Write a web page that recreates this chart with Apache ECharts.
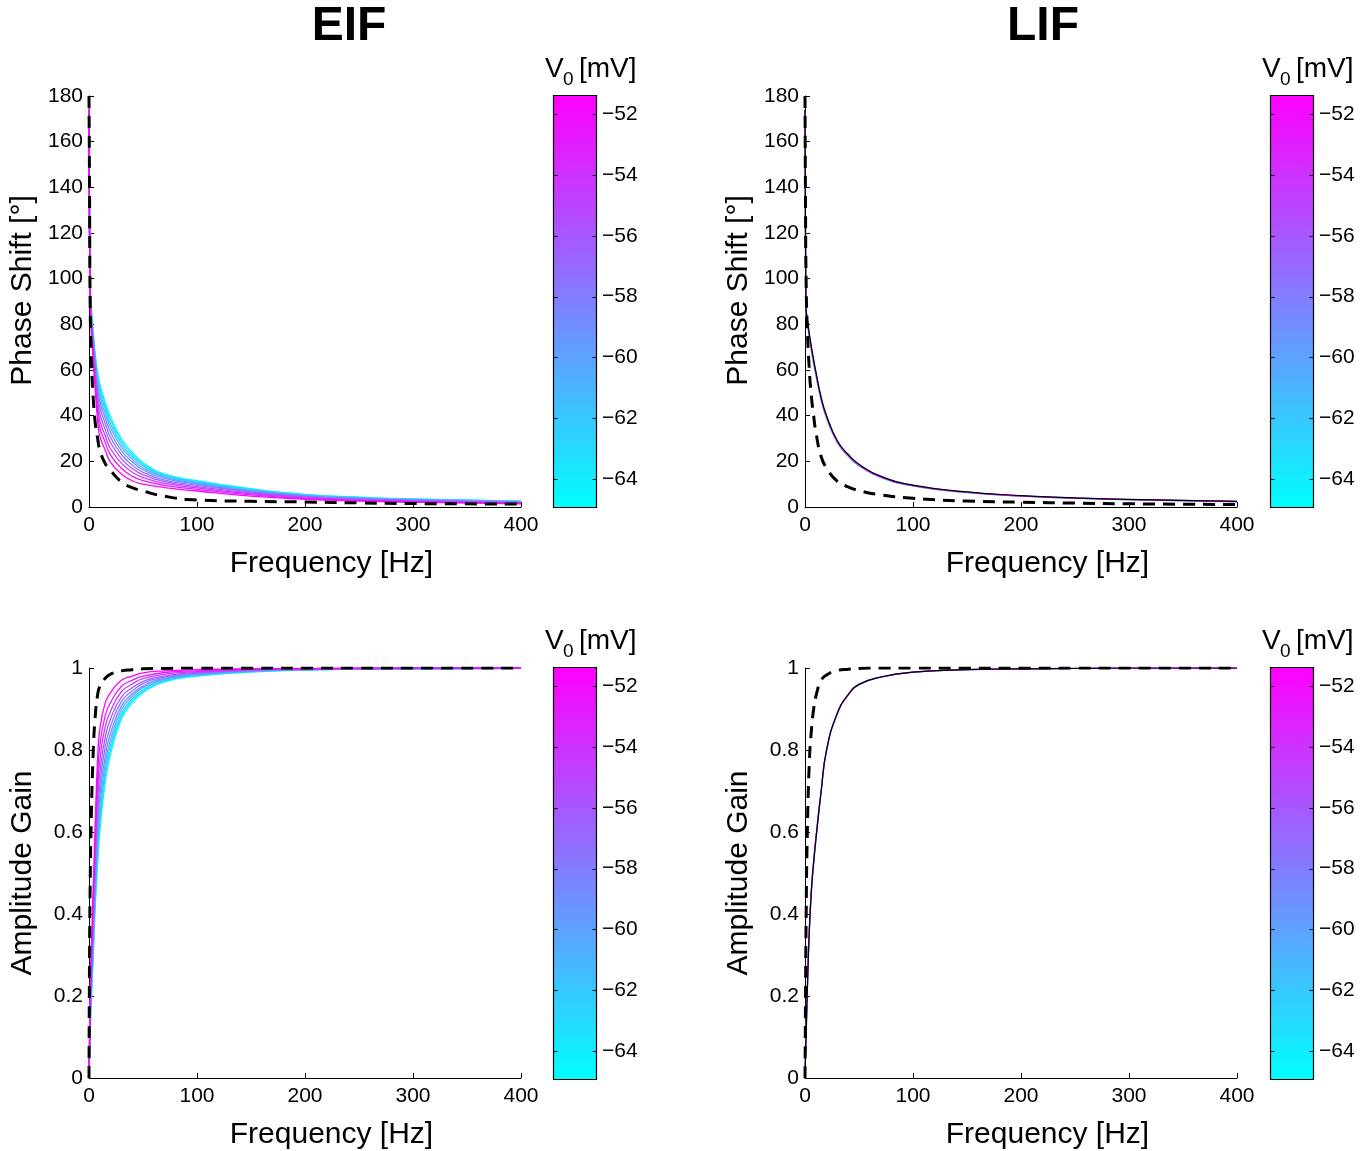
<!DOCTYPE html>
<html><head><meta charset="utf-8">
<script src="https://cdn.jsdelivr.net/npm/echarts@6/dist/echarts.min.js"></script>
<style>html,body{margin:0;padding:0;background:#fff}#c{width:1365px;height:1151px}</style>
</head><body><div id="c"></div>
<script>
// ---------------- data ----------------
const freq = [0, 0.5, 1, 2, 4, 6, 8, 10, 15, 20, 30, 40, 50, 70, 100, 150, 200, 250, 300, 400];
const cbTicks = [-64, -62, -60, -58, -56, -54, -52];
const cbMin = -64.92, cbMax = -51.37;

const v0EIF = [-65, -63.5, -62, -60.5, -59, -57.5, -56, -54.5, -53, -51.5];
const eifPhase = [
  [172, 125, 100, 88, 76, 66, 59, 54, 46, 39.5, 30, 24, 19.5, 14.5, 11.5, 8, 5.5, 4.3, 3.5, 2.6],
  [172.2, 124.7, 99.4, 87.3, 75.2, 64.9, 57.5, 52.4, 44.5, 38.1, 28.9, 23.1, 18.8, 14.1, 11.2, 7.8, 5.4, 4.2, 3.4, 2.5],
  [172.5, 124.3, 98.8, 86.5, 74.2, 63.6, 55.9, 50.6, 42.9, 36.5, 27.7, 22.1, 18.1, 13.6, 10.8, 7.5, 5.2, 4.0, 3.3, 2.4],
  [172.7, 123.8, 98.1, 85.6, 73.1, 62.2, 54.0, 48.5, 41.0, 34.7, 26.3, 21.0, 17.2, 13.1, 10.4, 7.2, 5.0, 3.9, 3.2, 2.3],
  [173.0, 123.3, 97.3, 84.6, 71.9, 60.6, 51.9, 46.2, 38.9, 32.7, 24.7, 19.8, 16.3, 12.5, 10.0, 6.9, 4.8, 3.7, 3.0, 2.2],
  [173.4, 122.8, 96.4, 83.5, 70.6, 58.8, 49.6, 43.7, 36.6, 30.5, 23.0, 18.4, 15.2, 11.8, 9.5, 6.6, 4.6, 3.5, 2.9, 2.1],
  [173.7, 122.2, 95.4, 82.3, 69.2, 56.9, 47.0, 40.9, 34.0, 28.1, 21.2, 16.9, 14.1, 11.1, 8.9, 6.2, 4.3, 3.3, 2.7, 1.9],
  [174.1, 121.5, 94.4, 81.0, 67.6, 54.8, 44.3, 37.9, 31.3, 25.5, 19.2, 15.3, 12.9, 10.3, 8.4, 5.8, 4.0, 3.1, 2.5, 1.8],
  [174.5, 120.8, 93.3, 79.6, 65.9, 52.6, 41.4, 34.7, 28.4, 22.7, 17.0, 13.5, 11.5, 9.5, 7.7, 5.3, 3.7, 2.9, 2.3, 1.6],
  [175, 120, 92, 78, 64, 50, 38, 31, 25, 19.5, 14.5, 11.5, 10, 8.5, 7, 4.8, 3.4, 2.6, 2.1, 1.4]
];
const eifPhaseRef = [180, 140, 92, 68, 47, 36, 30, 25, 19, 16, 11, 8.5, 7, 4.7, 3.1, 2.5, 2.2, 1.8, 1.5, 1.3];

const eifGain = [
  [0, 0.05, 0.1, 0.18, 0.3, 0.43, 0.52, 0.6, 0.72, 0.79, 0.875, 0.915, 0.94, 0.966, 0.98, 0.99, 0.995, 0.997, 0.998, 0.999],
  [0, 0.054, 0.107, 0.188, 0.312, 0.445, 0.538, 0.618, 0.734, 0.801, 0.882, 0.920, 0.943, 0.968, 0.981, 0.991, 0.995, 0.997, 0.998, 0.999],
  [0, 0.058, 0.115, 0.198, 0.326, 0.462, 0.559, 0.638, 0.749, 0.813, 0.889, 0.925, 0.947, 0.970, 0.982, 0.991, 0.996, 0.997, 0.998, 0.999],
  [0, 0.062, 0.124, 0.209, 0.341, 0.480, 0.582, 0.660, 0.767, 0.826, 0.898, 0.931, 0.952, 0.972, 0.984, 0.992, 0.996, 0.998, 0.998, 0.999],
  [0, 0.067, 0.134, 0.221, 0.358, 0.501, 0.608, 0.685, 0.786, 0.841, 0.907, 0.937, 0.956, 0.975, 0.985, 0.993, 0.996, 0.998, 0.999, 0.999],
  [0, 0.073, 0.145, 0.234, 0.377, 0.525, 0.637, 0.713, 0.808, 0.858, 0.918, 0.944, 0.962, 0.978, 0.987, 0.994, 0.997, 0.998, 0.999, 0.999],
  [0, 0.079, 0.157, 0.248, 0.397, 0.550, 0.668, 0.743, 0.831, 0.876, 0.929, 0.952, 0.967, 0.981, 0.989, 0.995, 0.997, 0.999, 0.999, 1],
  [0, 0.085, 0.170, 0.264, 0.419, 0.577, 0.702, 0.775, 0.857, 0.895, 0.942, 0.961, 0.974, 0.985, 0.991, 0.996, 0.998, 0.999, 1, 1],
  [0, 0.092, 0.184, 0.281, 0.443, 0.606, 0.738, 0.810, 0.884, 0.916, 0.955, 0.970, 0.980, 0.989, 0.993, 0.997, 0.998, 0.999, 1, 1],
  [0, 0.1, 0.2, 0.3, 0.47, 0.64, 0.78, 0.85, 0.915, 0.94, 0.97, 0.98, 0.988, 0.993, 0.996, 0.998, 0.999, 1, 1, 1]
];
const eifGainRef = [0, 0.3, 0.45, 0.62, 0.8, 0.89, 0.935, 0.955, 0.975, 0.985, 0.993, 0.996, 0.998, 0.999, 1, 1, 1, 1, 1, 1];

const v0LIF = [-65, -58, -51.5];
const lifPhase = [
  [173, 112, 85, 81, 74, 68, 62.6, 57.8, 46.6, 38.8, 28.1, 22.2, 18, 13, 9.2, 6.3, 4.8, 3.8, 3.1, 2.3],
  [173.5, 113, 86, 81.8, 74.8, 68.7, 63.2, 58.3, 47, 39.1, 28.3, 22.4, 18.2, 13.1, 9.3, 6.4, 4.8, 3.9, 3.2, 2.4],
  [174, 114, 86.5, 82.4, 75.3, 69.3, 63.8, 58.8, 47.4, 39.5, 28.6, 22.6, 18.4, 13.2, 9.4, 6.5, 4.9, 3.9, 3.2, 2.4]
];
const lifPhaseFit = [174, 115, 87, 83, 76, 70, 64.5, 59.5, 48, 40, 29, 23, 18.7, 13.5, 9.6, 6.6, 5, 4, 3.3, 2.5];
const lifPhaseRef = [180, 130, 100, 80, 60, 48, 40, 33, 22, 17, 11.2, 8.8, 7.2, 5.3, 3.8, 2.6, 2.1, 1.7, 1.4, 1.1];

const lifGain = [
  [0, 0.055, 0.095, 0.195, 0.355, 0.455, 0.52, 0.575, 0.697, 0.798, 0.888, 0.934, 0.959, 0.977, 0.99, 0.996, 0.998, 0.999, 1, 1],
  [0, 0.06, 0.1, 0.2, 0.36, 0.46, 0.525, 0.58, 0.7, 0.8, 0.89, 0.935, 0.96, 0.978, 0.99, 0.996, 0.998, 0.999, 1, 1],
  [0, 0.065, 0.105, 0.205, 0.365, 0.465, 0.53, 0.585, 0.702, 0.801, 0.891, 0.935, 0.96, 0.978, 0.99, 0.996, 0.998, 0.999, 1, 1]
];
const lifGainFit = [0, 0.06, 0.1, 0.2, 0.36, 0.46, 0.525, 0.58, 0.7, 0.8, 0.89, 0.935, 0.96, 0.978, 0.99, 0.996, 0.998, 0.999, 1, 1];
const lifGainRef = [0, 0.2, 0.38, 0.58, 0.77, 0.85, 0.9, 0.93, 0.97, 0.983, 0.994, 0.997, 0.999, 1, 1, 1, 1, 1, 1, 1];

// ---------------- chart ----------------
const FONT = '"Liberation Sans", Arial, Helvetica, sans-serif';
function coolColor(v) {
  const t = Math.max(0, Math.min(1, (v - cbMin) / (cbMax - cbMin)));
  return 'rgb(' + Math.round(255 * t) + ',' + Math.round(255 * (1 - t)) + ',255)';
}
function pairs(ys) { return freq.map((f, i) => [f, ys[i]]); }
function line(g, ys, color, width, z) {
  return { type: 'line', xAxisIndex: g, yAxisIndex: g, data: pairs(ys), symbol: 'none', showSymbol: false,
    smooth: 0.5, silent: true, animation: false, z: z || 2, clip: true,
    lineStyle: { color: color, width: width || 1.3 }, itemStyle: { color: color } };
}
function dashed(g, ys) {
  return { type: 'line', xAxisIndex: g, yAxisIndex: g, data: pairs(ys), symbol: 'none', showSymbol: false,
    smooth: 0.5, silent: true, animation: false, z: 5, clip: true,
    lineStyle: { color: '#000', width: 3, type: [12, 8] }, itemStyle: { color: '#000' } };
}

const mainBoxes = [
  { left: 89, top: 96 }, { left: 805, top: 96 }, { left: 89, top: 668 }, { left: 805, top: 668 }
];
const cbBoxes = [
  { left: 553, top: 95 }, { left: 1270, top: 95 }, { left: 553, top: 667 }, { left: 1270, top: 667 }
];
const CBW = 43, CBH = 412;

const grid = [];
mainBoxes.forEach(b => grid.push({ left: b.left, top: b.top, width: 432, height: 411, containLabel: false }));
cbBoxes.forEach(b => grid.push({ left: b.left, top: b.top, width: CBW, height: CBH, show: false, containLabel: false }));

const axisCommon = {
  axisLine: { show: true, onZero: false, lineStyle: { color: '#000', width: 1 } },
  axisTick: { show: true, inside: true, length: 5, lineStyle: { color: '#000' } },
  axisLabel: { color: '#000', fontSize: 21, fontFamily: FONT },
  splitLine: { show: false }
};
const nameStyle = { color: '#000', fontSize: 30, fontFamily: FONT };

const xAxis = [];
for (let i = 0; i < 4; i++) {
  xAxis.push(Object.assign({}, axisCommon, {
    gridIndex: i, type: 'value', min: 0, max: 400, interval: 100,
    axisLabel: Object.assign({}, axisCommon.axisLabel, { margin: 8 }),
    name: 'Frequency [Hz]', nameLocation: 'middle', nameGap: 42,
    nameTextStyle: Object.assign({}, nameStyle, { padding: [0, 0, 0, 53] })
  }));
}
for (let i = 4; i < 8; i++) {
  xAxis.push({ gridIndex: i, type: 'value', min: 0, max: 1, show: false });
}

const yAxis = [];
for (let i = 0; i < 4; i++) {
  const phase = i < 2;
  yAxis.push(Object.assign({}, axisCommon, {
    gridIndex: i, type: 'value', min: 0, max: phase ? 180 : 1, interval: phase ? 20 : 0.2,
    axisLabel: Object.assign({}, axisCommon.axisLabel, { margin: 6 }),
    name: phase ? 'Phase Shift [°]' : 'Amplitude Gain', nameLocation: 'middle', nameRotate: 90, nameGap: 51,
    nameTextStyle: Object.assign({}, nameStyle, { padding: phase ? [0, 0, 0, 22] : [0, 0, 0, 0] })
  }));
}
for (let i = 4; i < 8; i++) {
  yAxis.push({
    gridIndex: i, type: 'value', min: cbMin, max: cbMax, position: 'right',
    axisLine: { show: false },
    axisTick: { show: false },
    axisLabel: { show: true, customValues: cbTicks, color: '#000', fontSize: 21, fontFamily: FONT, margin: 6,
      formatter: v => '\u2212' + Math.abs(v) },
    splitLine: { show: false }
  });
}

const series = [];
eifPhase.forEach((row, i) => series.push(line(0, row, coolColor(v0EIF[i]))));
series.push(dashed(0, eifPhaseRef));
lifPhase.forEach((row, i) => series.push(line(1, row, coolColor(v0LIF[i]))));
series.push(line(1, lifPhaseFit, '#000', 1.2, 3));
series.push(dashed(1, lifPhaseRef));
eifGain.forEach((row, i) => series.push(line(2, row, coolColor(v0EIF[i]))));
series.push(dashed(2, eifGainRef));
lifGain.forEach((row, i) => series.push(line(3, row, coolColor(v0LIF[i]))));
series.push(line(3, lifGainFit, '#000', 1.2, 3));
series.push(dashed(3, lifGainRef));

// colour bars: gradient box + inside tick marks, placed through the colour-bar axis scale
for (let g = 4; g < 8; g++) {
  series.push({
    type: 'custom', xAxisIndex: g, yAxisIndex: g, silent: true, animation: false, z: 10, clip: false,
    data: [[0, cbMax]],
    renderItem: (params, api) => {
      const tl = api.coord([0, cbMax]), br = api.coord([1, cbMin]);
      const x0 = Math.round(tl[0]) + 0.5, x1 = Math.round(br[0]) + 0.5;
      const y0 = Math.round(tl[1]) + 0.5, y1 = Math.round(br[1]) + 0.5;
      const children = [{
        type: 'rect', shape: { x: x0, y: y0, width: x1 - x0, height: y1 - y0 },
        style: { fill: new echarts.graphic.LinearGradient(0, 0, 0, 1,
          [{ offset: 0, color: '#ff00ff' }, { offset: 1, color: '#00ffff' }]), stroke: '#000', lineWidth: 1.2 }
      }];
      cbTicks.forEach(v => {
        const y = Math.round(api.coord([0, v])[1]) + 0.5;
        children.push({ type: 'line', shape: { x1: x0, y1: y, x2: x0 + 4, y2: y }, style: { stroke: '#000', lineWidth: 1 } });
        children.push({ type: 'line', shape: { x1: x1 - 4, y1: y, x2: x1, y2: y }, style: { stroke: '#000', lineWidth: 1 } });
      });
      return { type: 'group', children: children };
    }
  });
}

function txt(x, y, s, size, weight, align) {
  return { type: 'text', x: x, y: y, silent: true,
    style: { text: s, fill: '#000', font: (weight || 'normal') + ' ' + size + 'px ' + FONT,
      align: align || 'left', verticalAlign: 'middle' } };
}
const graphic = [
  txt(349, 27, 'EIF', 48, 'bold', 'center'),
  txt(1043, 27, 'LIF', 48, 'bold', 'center')
];
cbBoxes.forEach(b => {
  const dx = b.left - 553, dy = b.top - 95;
  graphic.push(txt(545 + dx, 69 + dy, 'V', 28));
  graphic.push(txt(563 + dx, 80 + dy, '0', 19));
  graphic.push(txt(579 + dx, 69 + dy, '[mV]', 28));
});

const chart = echarts.init(document.getElementById('c'), null, { renderer: 'canvas' });
chart.setOption({
  animation: false,
  backgroundColor: '#fff',
  grid: grid, xAxis: xAxis, yAxis: yAxis, series: series, graphic: graphic
});
</script>
</body></html>
